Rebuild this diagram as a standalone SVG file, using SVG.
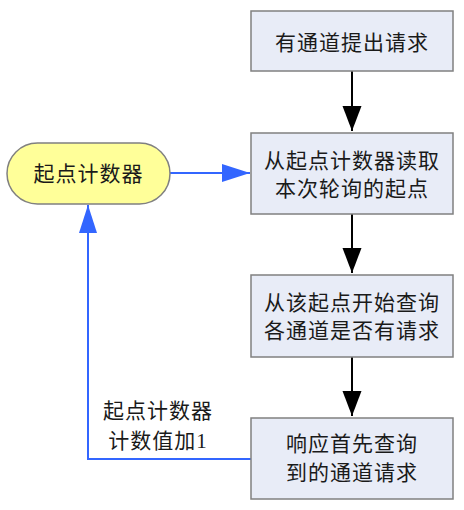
<svg xmlns="http://www.w3.org/2000/svg" width="464" height="510" viewBox="0 0 464 510">
<style>
.box{fill:#E8ECF7;stroke:#808080;stroke-width:1.5}
.oval{fill:#FFFF99;stroke:#808080;stroke-width:1.5}
text{font-family:"Liberation Serif","Noto Sans CJK SC",serif;font-size:21px;fill:#1a1a1a;text-anchor:middle;letter-spacing:1px}
.k{stroke:#000;stroke-width:2;fill:none}
.b{stroke:#3366FF;stroke-width:2;fill:none}
</style>
<defs>
<marker id="ak" markerUnits="userSpaceOnUse" markerWidth="26" markerHeight="20" refX="25" refY="10" orient="auto"><path d="M0,0.5 L25,10 L0,19.5 Z" fill="#000"/></marker>
<marker id="ab" markerUnits="userSpaceOnUse" markerWidth="29" markerHeight="20" refX="28" refY="9.5" orient="auto"><path d="M0,0.5 L28,9.5 L0,18.5 Z" fill="#3366FF"/></marker>
</defs>
<g id="connectors">
<line class="k" x1="352" y1="71" x2="352" y2="131" marker-end="url(#ak)"/>
<line class="k" x1="352" y1="214" x2="352" y2="273" marker-end="url(#ak)"/>
<line class="k" x1="352" y1="357" x2="352" y2="416" marker-end="url(#ak)"/>
<line class="b" x1="170" y1="173" x2="250" y2="173" marker-end="url(#ab)"/>
<polyline class="b" points="251,459 88,459 88,205" marker-end="url(#ab)"/>
<g id="edge-label"><text x="158" y="418">起点计数器</text><text x="158" y="448">计数值加1</text></g>
</g>
<g id="n1"><rect class="box" x="251" y="11" width="202" height="60"/><text x="352" y="50">有通道提出请求</text></g>
<g id="n2"><rect class="box" x="251" y="133" width="202" height="81"/><text x="352" y="168">从起点计数器读取</text><text x="352" y="196">本次轮询的起点</text></g>
<g id="n3"><rect class="box" x="251" y="275" width="202" height="82"/><text x="352" y="310">从该起点开始查询</text><text x="352" y="338">各通道是否有请求</text></g>
<g id="n4"><rect class="box" x="251" y="418" width="202" height="81"/><text x="352" y="451">响应首先查询</text><text x="352" y="480">到的通道请求</text></g>
<g id="counter"><rect class="oval" x="7" y="143" width="163" height="61" rx="30.5" ry="30.5"/><text x="88.5" y="181">起点计数器</text></g>
</svg>
